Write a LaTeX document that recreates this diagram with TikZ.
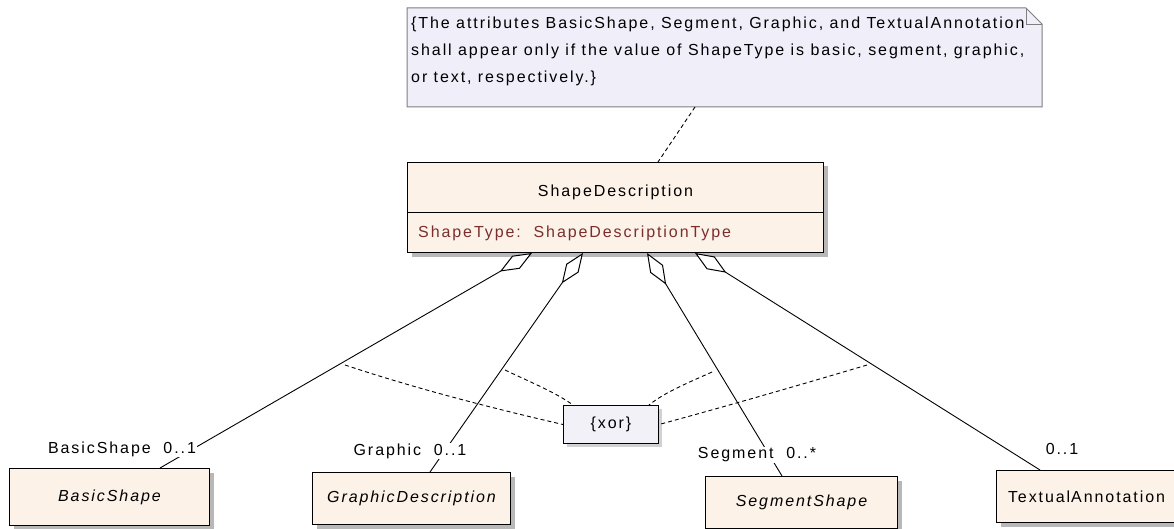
\documentclass[tikz,border=0pt]{standalone}
\usepackage{fontspec}
\setmainfont{Liberation Sans}[LetterSpace=12]
\usetikzlibrary{arrows.meta,shadows,calc}
\definecolor{boxfill}{HTML}{FCF2E8}
\definecolor{notefill}{HTML}{EFEEF9}
\definecolor{noteline}{HTML}{7F7F7F}
\definecolor{xorfill}{HTML}{F3F1F8}
\definecolor{attrcol}{HTML}{7B2E2E}
\begin{document}
\begin{tikzpicture}[x=1pt,y=-1pt,
  font=\fontsize{16}{19}\selectfont,
  cls/.style={draw=black, line width=1pt, fill=boxfill, inner sep=0pt, anchor=north west,
    general shadow={fill=black!28, shadow xshift=4pt, shadow yshift=-4pt}},
  lbl/.style={fill=white, inner sep=1pt},
  agg/.style={line width=0.9pt, arrows={Diamond[open,fill=white,length=37pt,width=15pt,line width=1pt]-}},
  cons/.style={line width=0.9pt, dash pattern=on 4pt off 3pt},
  notetext/.style={anchor=base west, inner sep=0pt}]
\useasboundingbox (0,0) rectangle (1174,529);

% note
\fill[notefill] (407,8) -- (1026,8) -- (1042,24) -- (1042,107) -- (407,107) -- cycle;
\draw[noteline, line width=1pt] (407,8) -- (1026,8) -- (1042,24) -- (1042,107) -- (407,107) -- cycle;
\draw[noteline, line width=0.8pt] (1026,8) -- (1026,24) -- (1042,24);
\node[notetext] (n1) at (411,29) {\{The attributes BasicShape, Segment, Graphic, and TextualAnnotation};
\node[notetext] (n2) at (411,56) {shall appear only if the value of ShapeType is basic, segment, graphic,};
\node[notetext] (n3) at (411,83) {or text, respectively.\}};
\coordinate (notebot) at (695,107);

% main class
\node[cls, minimum width=416pt, minimum height=90pt] (sd) at (407,162) {};
\draw[line width=1pt] ($(sd.north west)+(0,51)$) -- ($(sd.north east)+(0,51)$);
\node (sdname) at ($(sd.north)+(0,30)$) {ShapeDescription};
\node[anchor=base west, inner sep=0pt, text=attrcol] (sdattr) at ($(sd.north west)+(11,76)$) {ShapeType:\ \ ShapeDescriptionType};

\draw[cons] (notebot) -- ($(sd.north west)+(251,0)$);

% subclasses
\node[cls, minimum width=200pt, minimum height=57pt] (bs) at (9,468) {\itshape BasicShape};
\node[cls, minimum width=198pt, minimum height=52pt] (gd) at (312,472) {\itshape GraphicDescription};
\node[cls, minimum width=192pt, minimum height=52pt] (ss) at (705,476) {\itshape SegmentShape};
\node[cls, minimum width=180pt, minimum height=52pt] (ta) at (996,470) {Textual\kern1pt Annotation};

% xor constraint
\node[draw=black, line width=1pt, fill=xorfill, minimum width=95pt, minimum height=38pt, anchor=north west,
  general shadow={fill=black!18, shadow xshift=3pt, shadow yshift=-3pt}] (xor) at (563,405) {\{xor\}};

% aggregations
\draw[agg] ($(sd.south west)+(125,0)$) -- ($(bs.north west)+(151,0)$);
\draw[agg] ($(sd.south west)+(176,0)$) -- ($(gd.north west)+(118,0)$);
\draw[agg] ($(sd.south west)+(240,0)$) -- ($(ss.north west)+(77,0)$);
\draw[agg] ($(sd.south west)+(288,0)$) -- ($(ta.north west)+(44,0)$);

% role labels
\node[lbl] (l1) at (122,449) {BasicShape\ \ 0..1};
\node[lbl] (l2) at (410,451) {Graphic\ \ 0..1};
\node[lbl] (l3) at (757,455) {Segment\ \ 0..*};
\node[lbl] (l4) at (1062,449) {0..1};

% xor dashed arcs
\draw[cons] (345,365) .. controls (420,390) and (500,410) .. (xor.west);
\draw[cons] (505,370) .. controls (530,382) and (555,392) .. ($(xor.north west)+(10,0)$);
\draw[cons] (712,372) .. controls (690,382) and (665,392) .. ($(xor.north east)+(-10,0)$);
\draw[cons] (867,365) .. controls (800,385) and (720,408) .. (xor.east);
\end{tikzpicture}
\end{document}
